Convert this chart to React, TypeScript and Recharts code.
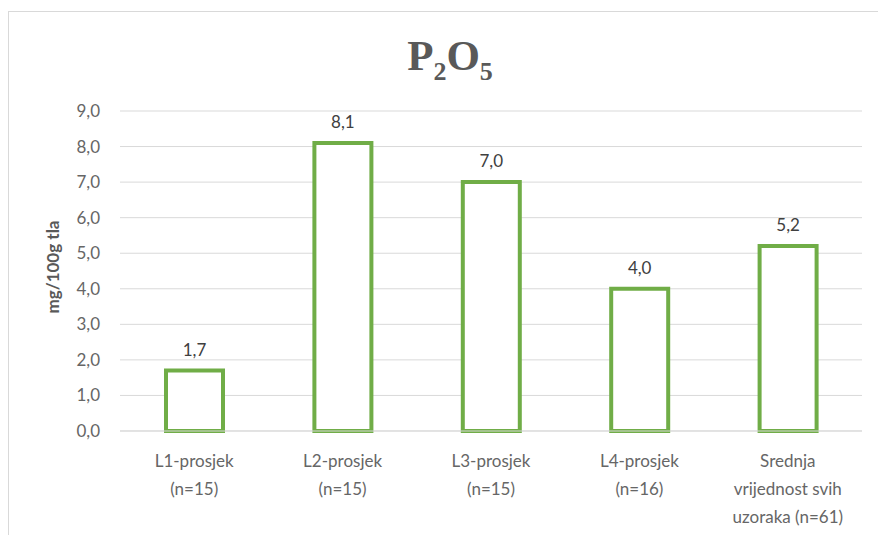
import React from 'react';
import { Bar, BarChart, CartesianGrid, LabelList, XAxis, YAxis } from 'recharts';

const categories = [
  'L1-prosjek\n(n=15)',
  'L2-prosjek\n(n=15)',
  'L3-prosjek\n(n=15)',
  'L4-prosjek\n(n=16)',
  'Srednja\nvrijednost svih\nuzoraka (n=61)',
];
const p2o5Values = [1.7, 8.1, 7.0, 4.0, 5.2];
const yTicks = [0, 1, 2, 3, 4, 5, 6, 7, 8, 9];

const data = categories.map((name, i) => ({ name, value: p2o5Values[i] }));

const FONT = 'Lato, "Open Sans", sans-serif';
const fmt = (v: number) => Number(v).toFixed(1).replace('.', ',');

const CategoryTick = (props: any) => {
  const { x, y, payload } = props;
  const lines = String(payload.value).split('\n');
  return (
    <g transform={`translate(${x},${y})`}>
      <text textAnchor="middle" fill="#666666" fontSize={17} fontFamily={FONT}>
        {lines.map((line, i) => (
          <tspan key={i} x={0} dy={i === 0 ? 34 : 28}>
            {line}
          </tspan>
        ))}
      </text>
    </g>
  );
};

const App: React.FC = () => {
  return (
    <div style={{ position: 'fixed', left: 0, top: 0, width: 878, height: 535, overflow: 'hidden', background: '#fff' }}>
      <div
        style={{
          position: 'absolute',
          left: 8,
          top: 11,
          width: 1000,
          height: 1000,
          border: '1px solid #d9d9d9',
        }}
      />
      <div style={{ position: 'absolute', left: 0, top: 0 }}>
        <BarChart width={878} height={535} data={data} margin={{ top: 111, right: 16, bottom: 0, left: 0 }} barSize={57}>
          <text x={450} y={70} textAnchor="middle" fill="#595959" fontFamily='"Liberation Serif", "Times New Roman", serif' fontWeight="bold">
            <tspan fontSize={43}>P</tspan>
            <tspan fontSize={26} dy={10}>2</tspan>
            <tspan fontSize={43} dy={-10}>O</tspan>
            <tspan fontSize={26} dy={10}>5</tspan>
          </text>
          <text
            x={59}
            y={267}
            transform="rotate(-90 59 267)"
            textAnchor="middle"
            fill="#595959"
            fontSize={17}
            fontWeight="bold"
            fontFamily={FONT}
          >
            mg/100g tla
          </text>
          <CartesianGrid vertical={false} stroke="#d9d9d9" strokeWidth={1} />
          <XAxis
            dataKey="name"
            height={104}
            interval={0}
            axisLine={{ stroke: '#d9d9d9', strokeWidth: 1 }}
            tickLine={false}
            tickSize={0}
            tick={<CategoryTick />}
          />
          <YAxis
            width={120}
            domain={[0, 9]}
            ticks={yTicks}
            axisLine={false}
            tickLine={false}
            tickSize={0}
            tickMargin={20}
            tickFormatter={fmt}
            tick={{ fill: '#666666', fontSize: 17, fontFamily: FONT }}
          />
          <Bar dataKey="value" fill="#ffffff" stroke="#70AD47" strokeWidth={4} isAnimationActive={false}>
            <LabelList dataKey="value" position="top" offset={15} formatter={fmt} fill="#404040" fontSize={17} fontFamily={FONT} />
          </Bar>
        </BarChart>
      </div>
    </div>
  );
};

export default App;
